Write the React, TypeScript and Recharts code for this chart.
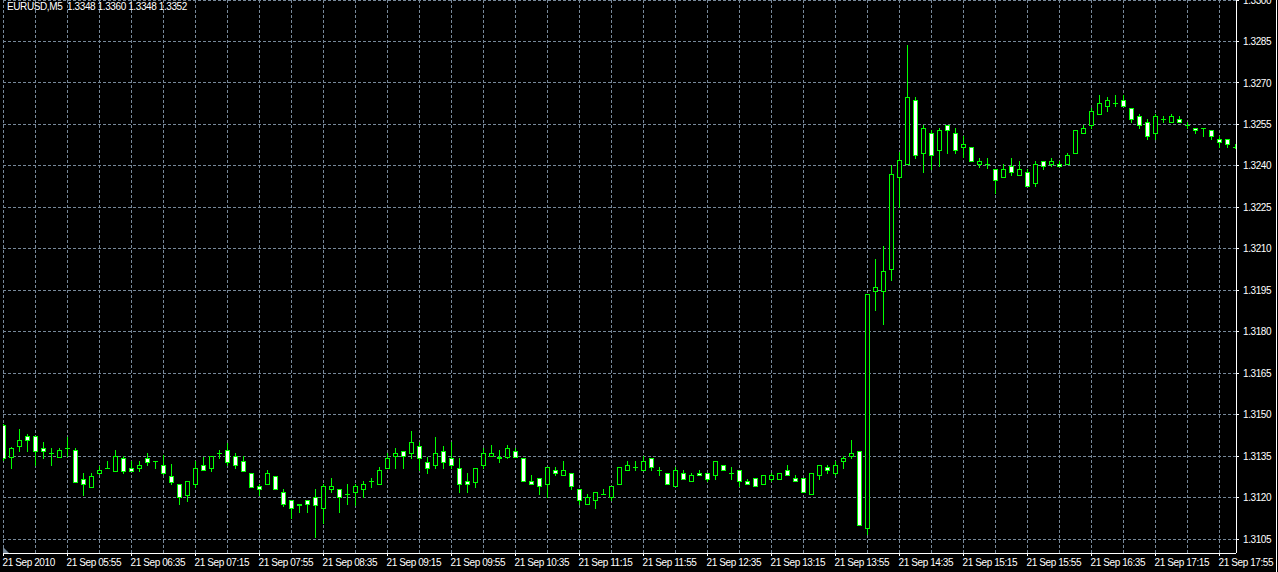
import { ComposedChart, Bar, XAxis, YAxis, CartesianGrid } from "recharts";

// EURUSD M5, 21 Sep 2010, 05:15 .. 18:05 (one candle per 5 minutes)
const opens = [
  1.31462, 1.31348, 1.31387, 1.31422, 1.31422, 1.31381, 1.3136, 1.31348, 1.31381, 1.31371,
  1.31269, 1.31239, 1.31291, 1.31309, 1.31297, 1.31342, 1.31309, 1.31309, 1.31342, 1.31331,
  1.3132, 1.3128, 1.31251, 1.3121, 1.31251, 1.3132, 1.31309, 1.3136, 1.31371, 1.3135,
  1.31332, 1.31291, 1.31242, 1.31251, 1.3128, 1.31219, 1.3119, 1.31179, 1.3119, 1.31201,
  1.31161, 1.3123, 1.3123, 1.31212, 1.31219, 1.3123, 1.3126, 1.31251, 1.31308, 1.3135,
  1.31369, 1.3136, 1.31387, 1.31329, 1.3132, 1.31369, 1.31342, 1.31308, 1.3126, 1.31257,
  1.3132, 1.3135, 1.31347, 1.31347, 1.31369, 1.31342, 1.3126, 1.3127, 1.31251, 1.31299,
  1.31281, 1.31291, 1.3123, 1.31179, 1.3119, 1.31212, 1.31201, 1.31251, 1.31299, 1.3131,
  1.31299, 1.31342, 1.31299, 1.31291, 1.31241, 1.31291, 1.3126, 1.31291, 1.31291, 1.31281,
  1.3132, 1.31291, 1.31299, 1.3126, 1.3127, 1.31251, 1.31269, 1.31269, 1.31299, 1.3127,
  1.3127, 1.31212, 1.31281, 1.3131, 1.31291, 1.31331, 1.3135, 1.31369, 1.31089, 1.31949,
  1.31949, 1.32028, 1.32359, 1.32406, 1.32639, 1.32448, 1.3252, 1.32458, 1.32549, 1.3252,
  1.32468, 1.32469, 1.32406, 1.32406, 1.3239, 1.32359, 1.32401, 1.32368, 1.32379, 1.32338,
  1.32419, 1.32408, 1.32408, 1.32408, 1.32448, 1.3252, 1.32549, 1.32589, 1.32617, 1.32629,
  1.32639, 1.3261, 1.32579, 1.32558, 1.32518, 1.3257, 1.32558, 1.3257, 1.32549, 1.32538,
  1.32538, 1.32531, 1.32498, 1.32498, 1.3247,
];

const highs = [
  1.31466, 1.31383, 1.3145, 1.3143, 1.31422, 1.314, 1.31381, 1.31381, 1.31418, 1.31381,
  1.31291, 1.31291, 1.31314, 1.31333, 1.31372, 1.3135, 1.31333, 1.31333, 1.3136, 1.31331,
  1.31356, 1.31321, 1.31251, 1.3126, 1.31332, 1.31347, 1.3135, 1.31372, 1.31398, 1.31362,
  1.3135, 1.31291, 1.31251, 1.31299, 1.3128, 1.3123, 1.3119, 1.31179, 1.3119, 1.3123,
  1.31251, 1.3127, 1.3123, 1.31251, 1.31251, 1.3126, 1.3127, 1.3131, 1.3136, 1.31381,
  1.31369, 1.3144, 1.314, 1.31347, 1.3142, 1.31387, 1.314, 1.31342, 1.31291, 1.31308,
  1.3138, 1.3139, 1.31372, 1.3139, 1.31378, 1.31342, 1.31281, 1.3127, 1.3131, 1.3131,
  1.31332, 1.31291, 1.3123, 1.31212, 1.31219, 1.3123, 1.31241, 1.3131, 1.31332, 1.31332,
  1.3135, 1.31342, 1.3131, 1.31291, 1.3131, 1.31299, 1.31291, 1.31299, 1.31291, 1.31332,
  1.3132, 1.3131, 1.31299, 1.31269, 1.3127, 1.31281, 1.31291, 1.31291, 1.3132, 1.31281,
  1.3127, 1.31291, 1.3132, 1.3132, 1.31332, 1.3135, 1.3141, 1.31369, 1.31938, 1.32062,
  1.32109, 1.32402, 1.3245, 1.32839, 1.3265, 1.32549, 1.32531, 1.32538, 1.32549, 1.32538,
  1.32509, 1.32469, 1.3243, 1.3243, 1.3239, 1.32408, 1.3243, 1.32419, 1.3239, 1.32419,
  1.32419, 1.3243, 1.32419, 1.32448, 1.32531, 1.32549, 1.3261, 1.32658, 1.3265, 1.32657,
  1.32657, 1.3261, 1.32589, 1.3257, 1.32589, 1.32582, 1.32589, 1.32579, 1.32558, 1.32538,
  1.32538, 1.32531, 1.32508, 1.32498, 1.3248,
];

const lows = [
  1.31336, 1.31308, 1.31369, 1.31369, 1.3132, 1.31342, 1.3132, 1.31347, 1.3135, 1.31256,
  1.3121, 1.31239, 1.31284, 1.31309, 1.31297, 1.3129, 1.31298, 1.31297, 1.3132, 1.31309,
  1.31284, 1.31251, 1.31179, 1.31189, 1.31239, 1.31299, 1.31297, 1.31342, 1.3132, 1.31309,
  1.31297, 1.31239, 1.31209, 1.31251, 1.3123, 1.3117, 1.31128, 1.31149, 1.31149, 1.31058,
  1.3111, 1.31219, 1.31149, 1.31178, 1.31173, 1.31201, 1.31239, 1.31251, 1.31308, 1.31308,
  1.31308, 1.31342, 1.31299, 1.31291, 1.31308, 1.31308, 1.31306, 1.31219, 1.31219, 1.31239,
  1.31306, 1.3135, 1.31329, 1.31342, 1.31347, 1.3126, 1.31251, 1.31212, 1.31201, 1.31281,
  1.31281, 1.3123, 1.31179, 1.31179, 1.31161, 1.31212, 1.3119, 1.31251, 1.31299, 1.31299,
  1.31299, 1.31299, 1.31281, 1.31251, 1.31241, 1.31269, 1.3126, 1.31281, 1.3126, 1.31269,
  1.31299, 1.31269, 1.31241, 1.31251, 1.31241, 1.31251, 1.3126, 1.31269, 1.31281, 1.3126,
  1.31219, 1.31212, 1.31269, 1.31291, 1.31281, 1.31308, 1.31342, 1.311, 1.31068, 1.31878,
  1.31828, 1.31986, 1.32251, 1.32406, 1.32428, 1.32378, 1.3239, 1.32401, 1.32448, 1.32448,
  1.32432, 1.32419, 1.32396, 1.32393, 1.32302, 1.32359, 1.32368, 1.32368, 1.32328, 1.32328,
  1.3239, 1.32401, 1.32401, 1.32408, 1.32448, 1.3252, 1.32538, 1.32589, 1.32597, 1.32617,
  1.32617, 1.32558, 1.32538, 1.32497, 1.32497, 1.32558, 1.32558, 1.32558, 1.32538, 1.32518,
  1.32508, 1.32497, 1.32468, 1.32468, 1.32463,
];

const closes = [
  1.31343, 1.31381, 1.3141, 1.3141, 1.31369, 1.31369, 1.3136, 1.31371, 1.31381, 1.31257,
  1.31251, 1.3128, 1.31299, 1.31309, 1.3135, 1.31297, 1.31298, 1.3132, 1.31329, 1.31331,
  1.31291, 1.31257, 1.31201, 1.3126, 1.31309, 1.31299, 1.3135, 1.3136, 1.31329, 1.3132,
  1.31297, 1.31239, 1.3123, 1.31291, 1.3123, 1.31179, 1.31161, 1.31172, 1.31179, 1.31172,
  1.31241, 1.31241, 1.31201, 1.31212, 1.31241, 1.31251, 1.3126, 1.31299, 1.31342, 1.3136,
  1.3135, 1.314, 1.31342, 1.31308, 1.3136, 1.31329, 1.3132, 1.31251, 1.31251, 1.31308,
  1.3136, 1.3136, 1.31342, 1.31381, 1.31347, 1.3126, 1.31251, 1.31241, 1.3131, 1.31291,
  1.31299, 1.31241, 1.3119, 1.31201, 1.31219, 1.31212, 1.31241, 1.3131, 1.3132, 1.3131,
  1.31332, 1.3131, 1.31299, 1.31251, 1.31299, 1.31269, 1.31281, 1.31281, 1.31269, 1.31332,
  1.31299, 1.31291, 1.3126, 1.31251, 1.31241, 1.31281, 1.31281, 1.31291, 1.31281, 1.3126,
  1.31219, 1.31291, 1.3132, 1.31299, 1.3132, 1.31342, 1.3136, 1.311, 1.31938, 1.31961,
  1.32021, 1.32369, 1.3242, 1.3265, 1.3244, 1.32538, 1.3244, 1.32531, 1.32531, 1.32458,
  1.3248, 1.32419, 1.32419, 1.32406, 1.32349, 1.3239, 1.32378, 1.3239, 1.32328, 1.32408,
  1.32401, 1.32419, 1.32401, 1.3244, 1.32531, 1.32538, 1.32599, 1.32628, 1.32639, 1.32629,
  1.32617, 1.32569, 1.32549, 1.32508, 1.32579, 1.3257, 1.32579, 1.32558, 1.32549, 1.32531,
  1.32538, 1.32508, 1.32487, 1.32478, 1.3247,
];

// one label every 8 bars (40 minutes)
const timeLabels = [
  "21 Sep 2010", "21 Sep 05:55", "21 Sep 06:35", "21 Sep 07:15", "21 Sep 07:55",
  "21 Sep 08:35", "21 Sep 09:15", "21 Sep 09:55", "21 Sep 10:35", "21 Sep 11:15",
  "21 Sep 11:55", "21 Sep 12:35", "21 Sep 13:15", "21 Sep 13:55", "21 Sep 14:35",
  "21 Sep 15:15", "21 Sep 15:55", "21 Sep 16:35", "21 Sep 17:15", "21 Sep 17:55",
];

const priceTicks = [
  1.3105, 1.312, 1.3135, 1.315, 1.3165, 1.318, 1.3195, 1.321, 1.3225, 1.324, 1.3255,
  1.327, 1.3285, 1.33,
];

const header = "EURUSD,M5  1.3348 1.3360 1.3348 1.3352";

const FONT = "'Liberation Sans', Arial, sans-serif";
const GREEN = "#00ff00";
const GRID = "#778899";
const SPACING = -0.4;

const candles = opens.map((o, i) => ({
  i,
  o,
  h: highs[i],
  l: lows[i],
  c: closes[i],
  range: [lows[i], highs[i]],
}));

const xTicks = candles.filter((d) => d.i % 4 === 0).map((d) => d.i);

function Candle(props: any) {
  const { x, y, width, height, payload } = props;
  if (x == null || y == null) return null;
  const cx = x + width / 2;
  const top = Math.min(y, y + height);
  const bottom = Math.max(y, y + height);
  const { o, h, l, c } = payload;
  const span = h - l || 1;
  const py = (v: number) => top + ((h - v) / span) * (bottom - top);
  const bt = Math.round(Math.min(py(o), py(c)));
  const bb = Math.round(Math.max(py(o), py(c)));
  const bull = c >= o;
  return (
    <g shapeRendering="crispEdges">
      <line x1={cx} x2={cx} y1={Math.round(top)} y2={Math.round(bottom) + 1} stroke={GREEN} />
      {bb - bt < 1 ? (
        <line x1={cx - 2.5} x2={cx + 2.5} y1={bt + 0.5} y2={bt + 0.5} stroke={GREEN} />
      ) : (
        <rect
          x={cx - 2}
          y={bt + 0.5}
          width={4}
          height={bb - bt}
          fill={bull ? "#000" : "#fff"}
          stroke={GREEN}
        />
      )}
    </g>
  );
}

function TimeTick(props: any) {
  const { x, y, payload } = props;
  const k = payload.value;
  if (k % 8 !== 0) return <g />;
  return (
    <g>
      <line x1={x} x2={x} y1={y - 3} y2={y} stroke="#fff" shapeRendering="crispEdges" />
      <text
        x={x - 1}
        y={y + 10}
        fill="#fff"
        fontSize={10}
        fontFamily={FONT}
        letterSpacing={SPACING}
        textAnchor="start"
      >
        {timeLabels[k / 8]}
      </text>
    </g>
  );
}

export default function App() {
  return (
    <div
      style={{
        position: "absolute",
        left: 0,
        top: 0,
        width: 1278,
        height: 572,
        background: "#000",
        overflow: "hidden",
      }}
    >
      <style>{`.recharts-cartesian-grid line, .recharts-cartesian-axis-line, .recharts-cartesian-axis-tick-line { shape-rendering: crispEdges; }`}</style>
      <ComposedChart
        width={1278}
        height={572}
        data={candles}
        margin={{ top: 0, right: 0, bottom: 0, left: 3 }}
      >
        <CartesianGrid yAxisId="price" stroke={GRID} strokeDasharray="3 2" />
        <XAxis
          dataKey="i"
          type="number"
          domain={[-0.0625, 154.0625]}
          allowDataOverflow
          ticks={xTicks}
          interval={0}
          height={19}
          tickSize={3}
          tickMargin={0}
          tickLine={false}
          axisLine={{ stroke: "#fff" }}
          tick={<TimeTick />}
        />
        <YAxis
          yAxisId="left"
          orientation="left"
          width={0}
          domain={[1.31, 1.33]}
          allowDataOverflow
          tick={false}
          tickLine={false}
          axisLine={{ stroke: "#fff" }}
        />
        <YAxis
          yAxisId="price"
          orientation="right"
          type="number"
          width={42}
          domain={[1.31, 1.33]}
          allowDataOverflow
          ticks={priceTicks}
          interval={0}
          tickSize={3}
          tickMargin={4}
          tickFormatter={(v: number) => v.toFixed(4)}
          tick={{ fill: "#fff", fontSize: 10, fontFamily: FONT, letterSpacing: SPACING }}
          tickLine={{ stroke: "#fff" }}
          axisLine={{ stroke: "#fff" }}
        />
        <Bar
          yAxisId="price"
          dataKey="range"
          barSize={5}
          shape={<Candle />}
          isAnimationActive={false}
        />
      </ComposedChart>
      <div
        style={{
          position: "absolute",
          left: 7,
          top: 1,
          color: "#fff",
          fontSize: 10,
          fontFamily: FONT,
          letterSpacing: SPACING,
          whiteSpace: "pre",
        }}
      >
        {header}
      </div>
      <svg
        style={{ position: "absolute", left: 0, top: 0, pointerEvents: "none" }}
        width={1278}
        height={572}
      >
        <polygon points="3,547 3,553 9,553" fill={GRID} />
        <line x1={1276.5} x2={1276.5} y1={0} y2={572} stroke="#fff" />
      </svg>
    </div>
  );
}
